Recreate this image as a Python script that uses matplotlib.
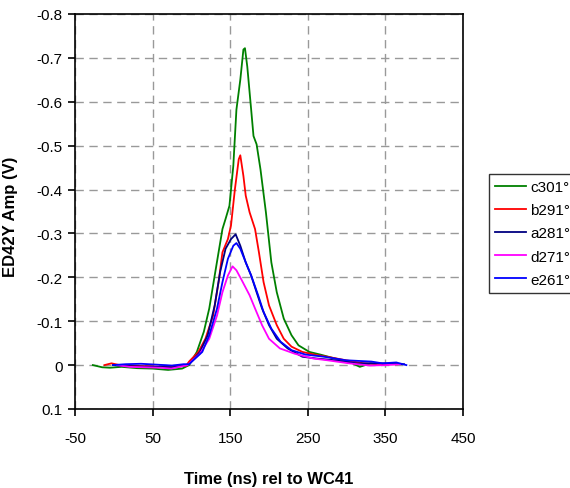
import matplotlib
matplotlib.use("Agg")
import matplotlib.pyplot as plt

plt.rcParams['font.family'] = ['Liberation Sans', 'DejaVu Sans']
plt.rcParams['axes.unicode_minus'] = False

# series (time in ns, amplitude in V)
t_c301 = [-27, -15, -5, 10, 30, 50, 70, 88, 97, 107, 116, 123, 130, 135, 140, 144, 149,
          154, 158, 163, 167, 169, 172, 177, 180, 184, 189, 196, 203, 210, 219, 229, 238,
          252, 266, 285, 303, 317, 331, 338]
v_c301 = [0.0, 0.005, 0.006, 0.004, 0.007, 0.008, 0.011, 0.008, 0.0, -0.03, -0.076, -0.129,
          -0.204, -0.257, -0.31, -0.333, -0.363, -0.454, -0.582, -0.65, -0.719, -0.722,
          -0.68, -0.582, -0.522, -0.503, -0.446, -0.348, -0.234, -0.166, -0.106, -0.068,
          -0.045, -0.03, -0.024, -0.015, -0.008, 0.004, -0.004, -0.002]

t_b291 = [-12, -3, 10, 30, 50, 70, 93, 97, 109, 118, 128, 135, 140, 147, 151, 156, 161,
          163, 167, 170, 175, 182, 187, 193, 200, 210, 219, 229, 243, 261, 275, 299, 322,
          346, 365]
v_b291 = [0.0, -0.004, 0.001, 0.002, 0.003, 0.004, 0.002, -0.008, -0.03, -0.06, -0.113,
          -0.189, -0.257, -0.287, -0.318, -0.4, -0.469, -0.478, -0.431, -0.386, -0.348,
          -0.31, -0.257, -0.189, -0.136, -0.091, -0.06, -0.042, -0.03, -0.023, -0.019,
          -0.011, -0.004, -0.002, -0.002]

t_a281 = [-1, 15, 35, 55, 75, 90, 97, 111, 121, 130, 137, 144, 151, 157, 163, 170, 177,
          184, 191, 200, 210, 224, 243, 261, 285, 313, 346, 374]
v_a281 = [0.0, 0.002, 0.003, 0.004, 0.005, 0.002, -0.002, -0.03, -0.068, -0.136, -0.212,
          -0.265, -0.287, -0.298, -0.272, -0.234, -0.204, -0.166, -0.129, -0.091, -0.06,
          -0.038, -0.019, -0.015, -0.011, -0.004, -0.004, -0.002]

t_d271 = [4, 20, 40, 60, 74, 95, 111, 123, 133, 140, 147, 153, 158, 165, 175, 182, 191,
          200, 214, 233, 257, 275, 303, 330, 350, 369]
v_d271 = [0.0, 0.004, 0.005, 0.006, 0.008, 0.0, -0.026, -0.06, -0.113, -0.166, -0.204,
          -0.225, -0.216, -0.193, -0.159, -0.129, -0.091, -0.06, -0.038, -0.026, -0.015,
          -0.011, -0.004, 0.001, 0.0, -0.002]

t_e261 = [-1, 15, 35, 55, 75, 90, 97, 114, 123, 133, 140, 147, 154, 158, 163, 170, 177,
          186, 193, 203, 215, 229, 247, 271, 299, 332, 346, 364, 377]
v_e261 = [0.0, -0.002, -0.003, -0.001, 0.001, -0.002, -0.002, -0.03, -0.068, -0.129,
          -0.189, -0.242, -0.272, -0.278, -0.265, -0.234, -0.204, -0.159, -0.121, -0.083,
          -0.053, -0.034, -0.024, -0.019, -0.011, -0.008, -0.004, -0.006, 0.0]

series = [
    ('c301°', t_c301, v_c301, '#008000'),
    ('b291°', t_b291, v_b291, '#FF0000'),
    ('a281°', t_a281, v_a281, '#000080'),
    ('d271°', t_d271, v_d271, '#FF00FF'),
    ('e261°', t_e261, v_e261, '#0000FF'),
]

fig = plt.figure(figsize=(5.7, 4.89), dpi=100)
ax = fig.add_axes([0.1316, 0.1616, 0.6807, 0.8078])

for name, t, v, col in series:
    ax.plot(t, v, color=col, lw=1.3, label=name)

ax.set_xlim(-50, 450)
ax.set_ylim(0.1, -0.8)
ax.set_xticks([-50, 50, 150, 250, 350, 450])
ax.set_yticks([0.1, 0, -0.1, -0.2, -0.3, -0.4, -0.5, -0.6, -0.7, -0.8])
ax.set_yticklabels(['0.1', '0', '-0.1', '-0.2', '-0.3', '-0.4', '-0.5', '-0.6', '-0.7', '-0.8'])
ax.grid(True, color='#999999', linestyle=(0, (6, 4)), lw=1)
ax.tick_params(axis='x', direction='out', length=5, width=1.2, pad=11, labelsize=11)
ax.tick_params(axis='y', direction='out', length=5, width=1.2, pad=4, labelsize=11)
for s in ax.spines.values():
    s.set_linewidth(1.2)
    s.set_color('black')

ax.set_xlabel('Time (ns) rel to WC41', fontsize=12, fontweight='bold')
ax.set_ylabel('ED42Y Amp (V)', fontsize=12, fontweight='bold')
ax.xaxis.set_label_coords(0.5, -0.157)
ax.yaxis.set_label_coords(-0.147, 0.49)

leg = ax.legend(loc='upper left', bbox_to_anchor=(489 / 570, 1 - 175 / 489),
                bbox_transform=fig.transFigure, fontsize=11, frameon=True,
                fancybox=False, edgecolor='black', borderaxespad=0, handlelength=2.0,
                handletextpad=0.3, labelspacing=0.6, borderpad=0.4)
leg.get_frame().set_linewidth(1.0)

fig.savefig('out.png', dpi=100)
